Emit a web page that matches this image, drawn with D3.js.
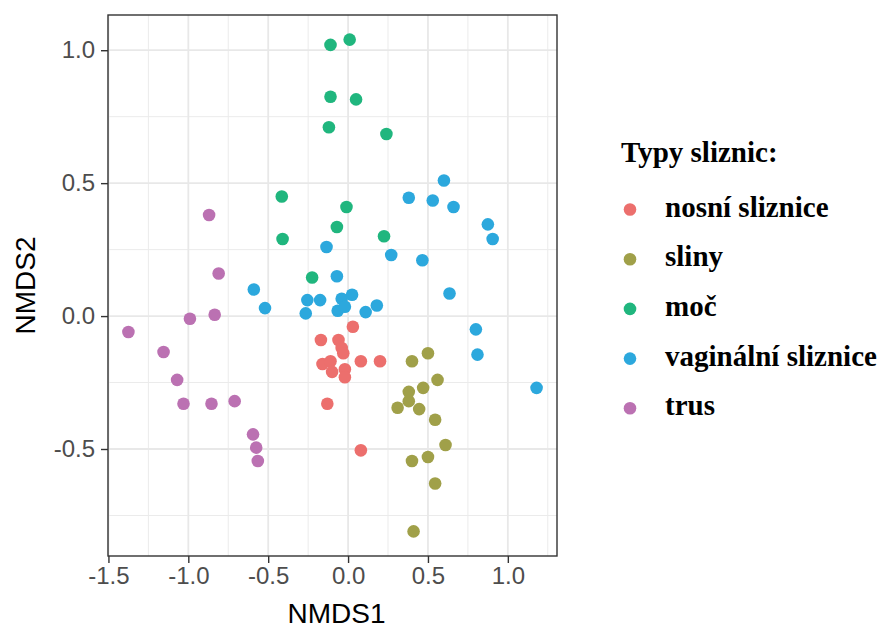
<!DOCTYPE html>
<html>
<head>
<meta charset="utf-8">
<script src="https://d3js.org/d3.v7.min.js"></script>
<style>
  body { margin: 0; background: #fff; }
</style>
</head>
<body>
<svg id="chart"></svg>
<script>
// groups and colours
var groups = ["nosní sliznice", "sliny", "moč", "vaginální sliznice", "trus"]
var colors = ["#EC6F6D", "#A0A049", "#20B67E", "#2CA8DD", "#BB71B2"]
var legendTitle = "Typy sliznic:"

// NMDS scores per group [NMDS1, NMDS2]
var nosni = [[0.03,-0.04],[-0.17,-0.09],[-0.06,-0.09],[-0.04,-0.12],[-0.03,-0.14],[-0.16,-0.18],
  [-0.11,-0.17],[-0.10,-0.21],[-0.02,-0.20],[-0.02,-0.23],[0.08,-0.17],[0.20,-0.17],[-0.13,-0.33],[0.08,-0.505]]
var sliny = [[0.40,-0.17],[0.50,-0.14],[0.56,-0.24],[0.47,-0.27],[0.38,-0.285],[0.38,-0.32],[0.31,-0.345],
  [0.445,-0.35],[0.545,-0.39],[0.61,-0.485],[0.50,-0.53],[0.40,-0.545],[0.545,-0.63],[0.41,-0.81]]
var moc = [[-0.11,1.02],[0.01,1.04],[-0.11,0.825],[0.05,0.815],[-0.12,0.71],[0.24,0.685],[-0.415,0.45],
  [-0.41,0.29],[-0.01,0.41],[-0.07,0.335],[0.225,0.30],[-0.225,0.145]]
var vaginalni = [[0.60,0.51],[0.38,0.445],[0.53,0.435],[0.66,0.41],[0.875,0.345],[0.905,0.29],[0.27,0.23],
  [0.465,0.21],[0.635,0.085],[0.18,0.04],[0.80,-0.05],[0.81,-0.145],[1.18,-0.27],[-0.135,0.26],[-0.07,0.15],
  [-0.255,0.06],[-0.175,0.06],[-0.265,0.01],[-0.04,0.065],[0.025,0.08],[-0.065,0.02],[-0.02,0.035],
  [0.11,0.015],[-0.59,0.10],[-0.52,0.03]]
var trus = [[-0.87,0.38],[-0.81,0.16],[-0.99,-0.01],[-0.835,0.005],[-1.375,-0.06],[-1.155,-0.135],
  [-1.07,-0.24],[-1.03,-0.33],[-0.855,-0.33],[-0.71,-0.32],[-0.595,-0.445],[-0.575,-0.495],[-0.565,-0.545]]

var series = [nosni, sliny, moc, vaginalni, trus]

// ticks
var xTicks = [-1.5, -1.0, -0.5, 0.0, 0.5, 1.0]
var yTicks = [-0.5, 0.0, 0.5, 1.0]
var xMinor = [-1.25, -0.75, -0.25, 0.25, 0.75, 1.25]
var yMinor = [-0.75, -0.25, 0.25, 0.75]

var width = 881, height = 630
var panel = {left: 108, right: 557, top: 15, bottom: 556}

var svg = d3.select("#chart")
  .attr("width", width)
  .attr("height", height)

// flatten for domain, ggplot style 5% expansion
var points = []
series.forEach(function(s, i) {
  s.forEach(function(p) { points.push({x: p[0], y: p[1], g: i}) })
})
function expand(ext) {
  var pad = (ext[1] - ext[0]) * 0.05
  return [ext[0] - pad, ext[1] + pad]
}
var x = d3.scaleLinear()
  .domain(expand(d3.extent(points, function(d) { return d.x })))
  .range([panel.left, panel.right])
var y = d3.scaleLinear()
  .domain(expand(d3.extent(points, function(d) { return d.y })))
  .range([panel.bottom, panel.top])

var color = d3.scaleOrdinal().domain(d3.range(groups.length)).range(colors)

// grid lines
var grid = svg.append("g")
grid.selectAll(".xminor").data(xMinor).enter().append("line")
  .attr("x1", function(d) { return x(d) }).attr("x2", function(d) { return x(d) })
  .attr("y1", panel.top).attr("y2", panel.bottom)
  .attr("stroke", "#EBEBEB").attr("stroke-width", 1)
grid.selectAll(".yminor").data(yMinor).enter().append("line")
  .attr("y1", function(d) { return y(d) }).attr("y2", function(d) { return y(d) })
  .attr("x1", panel.left).attr("x2", panel.right)
  .attr("stroke", "#EBEBEB").attr("stroke-width", 1)
grid.selectAll(".xmajor").data(xTicks).enter().append("line")
  .attr("x1", function(d) { return x(d) }).attr("x2", function(d) { return x(d) })
  .attr("y1", panel.top).attr("y2", panel.bottom)
  .attr("stroke", "#E8E8E8").attr("stroke-width", 1.8)
grid.selectAll(".ymajor").data(yTicks).enter().append("line")
  .attr("y1", function(d) { return y(d) }).attr("y2", function(d) { return y(d) })
  .attr("x1", panel.left).attr("x2", panel.right)
  .attr("stroke", "#E8E8E8").attr("stroke-width", 1.8)

// points
svg.append("g")
  .selectAll("circle")
  .data(points)
  .enter()
  .append("circle")
  .attr("cx", function(d) { return x(d.x) })
  .attr("cy", function(d) { return y(d.y) })
  .attr("r", 6.3)
  .attr("fill", function(d) { return color(d.g) })

// panel border
svg.append("rect")
  .attr("x", panel.left).attr("y", panel.top)
  .attr("width", panel.right - panel.left)
  .attr("height", panel.bottom - panel.top)
  .attr("fill", "none")
  .attr("stroke", "#333333")
  .attr("stroke-width", 1.4)

// axes
var fmt = function(d) { return d.toFixed(1) }
var xAxis = svg.append("g")
  .attr("transform", "translate(0," + panel.bottom + ")")
  .call(d3.axisBottom(x).tickValues(xTicks).tickFormat(fmt).tickSize(7).tickPadding(4))
var yAxis = svg.append("g")
  .attr("transform", "translate(" + panel.left + ",0)")
  .call(d3.axisLeft(y).tickValues(yTicks).tickFormat(fmt).tickSize(7).tickPadding(6))

;[xAxis, yAxis].forEach(function(a) {
  a.select(".domain").remove()
  a.selectAll(".tick line").attr("stroke", "#333333").attr("stroke-width", 1.4)
  a.selectAll(".tick text")
    .attr("fill", "#4D4D4D")
    .style("font-family", "Liberation Sans, Arial, sans-serif")
    .style("font-size", "24px")
})

// axis titles
svg.append("text")
  .attr("x", (panel.left + panel.right) / 2 + 4)
  .attr("y", 623)
  .attr("text-anchor", "middle")
  .style("font-family", "Liberation Sans, Arial, sans-serif")
  .style("font-size", "28px")
  .text("NMDS1")
svg.append("text")
  .attr("transform", "translate(35," + (panel.top + panel.bottom) / 2 + ") rotate(-90)")
  .attr("text-anchor", "middle")
  .style("font-family", "Liberation Sans, Arial, sans-serif")
  .style("font-size", "28px")
  .text("NMDS2")

// legend
var legend = svg.append("g")
legend.append("text")
  .attr("x", 621).attr("y", 162)
  .style("font-family", "Liberation Serif, Times New Roman, serif")
  .style("font-weight", "bold")
  .style("font-size", "29px")
  .text(legendTitle)

var item = legend.selectAll(".item")
  .data(groups)
  .enter()
  .append("g")
  .attr("transform", function(d, i) { return "translate(630," + (209.5 + i * 49.7) + ")" })
item.append("circle")
  .attr("r", 6.3)
  .attr("fill", function(d, i) { return colors[i] })
item.append("text")
  .attr("x", 35).attr("y", 7)
  .style("font-family", "Liberation Serif, Times New Roman, serif")
  .style("font-weight", "bold")
  .style("font-size", "29px")
  .text(function(d) { return d })
</script>
</body>
</html>
